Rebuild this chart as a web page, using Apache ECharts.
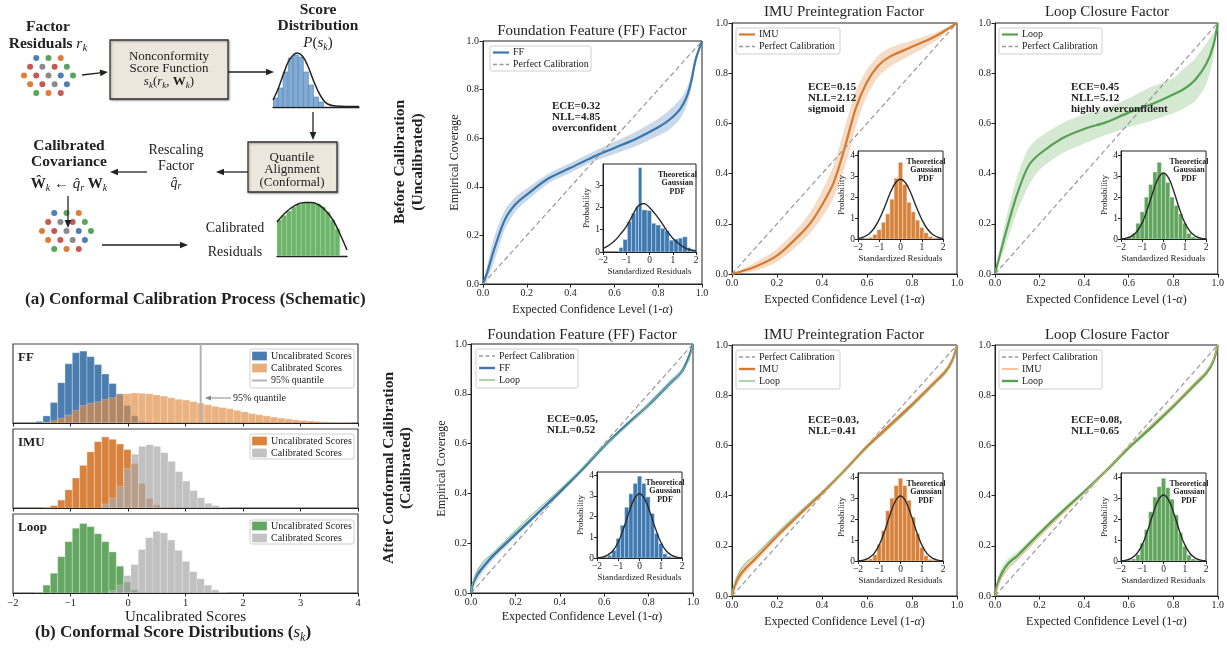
<!DOCTYPE html>
<html>
<head>
<meta charset="utf-8">
<title>Conformal calibration</title>
<script src="https://cdn.jsdelivr.net/npm/echarts@6.0.0/dist/echarts.min.js"></script>
<style>
  html, body { margin: 0; padding: 0; background: #fff; }
  #chart { width: 1227px; height: 649px; }
</style>
</head>
<body>
<div id="chart"></div>
<script>
// ---------- values ----------

// calibration curves before calibration
const ffBeforeX  = [0, 0.02, 0.05, 0.1, 0.15, 0.2, 0.3, 0.4, 0.5, 0.6, 0.7, 0.8, 0.85, 0.9, 0.93, 0.95, 0.97, 0.99, 1];
const ffBeforeY  = [0, 0.05, 0.14, 0.265, 0.33, 0.368, 0.435, 0.478, 0.522, 0.56, 0.598, 0.645, 0.675, 0.72, 0.77, 0.83, 0.92, 0.975, 1];
const ffBeforeHi = [0, 0.08, 0.19, 0.305, 0.36, 0.393, 0.455, 0.498, 0.542, 0.585, 0.628, 0.68, 0.715, 0.76, 0.805, 0.86, 0.94, 0.985, 1];
const ffBeforeLo = [0, 0.02, 0.09, 0.225, 0.3, 0.343, 0.415, 0.458, 0.502, 0.535, 0.568, 0.61, 0.635, 0.68, 0.735, 0.8, 0.9, 0.965, 1];

const imuBeforeX  = [0, 0.1, 0.2, 0.3, 0.35, 0.4, 0.45, 0.5, 0.55, 0.6, 0.65, 0.7, 0.8, 0.9, 1];
const imuBeforeY  = [0, 0.028, 0.073, 0.155, 0.205, 0.275, 0.36, 0.5, 0.66, 0.765, 0.83, 0.865, 0.905, 0.945, 1];
const imuBeforeHi = [0, 0.045, 0.1, 0.19, 0.25, 0.33, 0.43, 0.58, 0.73, 0.815, 0.87, 0.9, 0.93, 0.96, 1];
const imuBeforeLo = [0, 0.012, 0.048, 0.12, 0.165, 0.225, 0.3, 0.42, 0.585, 0.71, 0.785, 0.825, 0.875, 0.925, 1];

const loopBeforeX  = [0, 0.05, 0.1, 0.15, 0.2, 0.3, 0.4, 0.5, 0.6, 0.7, 0.8, 0.85, 0.9, 0.95, 0.98, 1];
const loopBeforeY  = [0, 0.17, 0.32, 0.43, 0.478, 0.54, 0.578, 0.605, 0.643, 0.675, 0.715, 0.738, 0.775, 0.84, 0.91, 1];
const loopBeforeHi = [0, 0.22, 0.39, 0.5, 0.545, 0.6, 0.635, 0.66, 0.7, 0.745, 0.78, 0.82, 0.86, 0.92, 0.96, 1];
const loopBeforeLo = [0, 0.12, 0.25, 0.35, 0.415, 0.48, 0.52, 0.555, 0.585, 0.61, 0.64, 0.66, 0.69, 0.76, 0.86, 1];

// calibration curves after calibration
const afterX     = [0, 0.01, 0.03, 0.06, 0.1, 0.2, 0.3, 0.4, 0.5, 0.6, 0.7, 0.8, 0.9, 0.95, 0.98, 1];
const ffAfterY   = [0, 0.04, 0.075, 0.11, 0.15, 0.235, 0.32, 0.405, 0.495, 0.59, 0.675, 0.755, 0.845, 0.89, 0.945, 1];
const imuAfterY  = [0, 0.035, 0.075, 0.11, 0.145, 0.238, 0.325, 0.41, 0.5, 0.595, 0.68, 0.762, 0.85, 0.895, 0.94, 1];
const loopAfterY = [0, 0.045, 0.09, 0.13, 0.16, 0.25, 0.335, 0.415, 0.5, 0.59, 0.67, 0.755, 0.845, 0.89, 0.935, 1];
const afterBandHW = [0, 0.02, 0.025, 0.02, 0.016, 0.012, 0.01, 0.01, 0.01, 0.01, 0.01, 0.012, 0.014, 0.014, 0.012, 0];

// inset histograms (standardized residuals)
const ffBeforeHistEdges = [-1.309, -1.137, -0.95, -0.777, -0.59, -0.475, -0.331, -0.101, 0.086, 0.273, 0.475, 0.662, 0.849, 1.05, 1.237, 1.424, 1.626, 1.77, 1.957];
const ffBeforeHistH     = [0.2, 0.56, 1.36, 1.74, 2.05, 3.79, 1.89, 1.86, 1.29, 1.21, 1.06, 0.95, 0.53, 0.58, 0.62, 0.68, 0.2, 0.07];
const insetCenters  = [-1.6, -1.4, -1.2, -1.0, -0.8, -0.6, -0.4, -0.2, 0, 0.2, 0.4, 0.6, 0.8, 1.0, 1.2, 1.4, 1.6];
const imuBeforeHistH  = [0.02, 0.08, 0.22, 0.45, 0.8, 1.2, 1.9, 2.9, 3.66, 2.6, 1.75, 1.3, 0.9, 0.55, 0.3, 0.12, 0.04];
const loopBeforeHistH = [0.1, 0.27, 0.75, 1.3, 2.0, 2.6, 3.2, 3.66, 3.15, 2.7, 2.0, 1.6, 1.2, 0.75, 0.27, 0.1, 0.03];
const ffAfterHistH    = [0.04, 0.13, 0.37, 0.94, 1.58, 2.45, 3.1, 3.6, 3.95, 3.6, 2.95, 2.15, 1.18, 0.7, 0.2, 0.08, 0.03];
const imuAfterHistH   = [0.03, 0.1, 0.3, 0.8, 1.45, 2.4, 3.0, 3.6, 3.95, 3.6, 2.9, 2.1, 1.3, 0.65, 0.25, 0.08, 0.03];
const loopAfterHistH  = [0.03, 0.1, 0.3, 0.85, 1.5, 2.35, 3.05, 3.55, 3.95, 3.5, 2.95, 2.2, 1.35, 0.7, 0.28, 0.1, 0.03];

// theoretical gaussian curves in the insets
const gaussX = [-2, -1.75, -1.5, -1.25, -1, -0.75, -0.5, -0.25, 0, 0.25, 0.5, 0.75, 1, 1.25, 1.5, 1.75, 2];
const ffBeforeGauss   = [0.15, 0.3, 0.5, 0.8, 1.14, 1.6, 2.05, 2.18, 2.0, 1.7, 1.35, 0.95, 0.62, 0.38, 0.2, 0.1, 0.05];
const imuBeforeGauss  = [0.03, 0.09, 0.23, 0.5, 0.94, 1.52, 2.16, 2.66, 2.85, 2.66, 2.16, 1.52, 0.94, 0.5, 0.23, 0.09, 0.03];
const loopBeforeGauss = [0.01, 0.04, 0.14, 0.36, 0.78, 1.44, 2.23, 2.89, 3.15, 2.89, 2.23, 1.44, 0.78, 0.36, 0.14, 0.04, 0.01];
const afterGauss      = [0.01, 0.04, 0.14, 0.35, 0.77, 1.42, 2.19, 2.84, 3.1, 2.84, 2.19, 1.42, 0.77, 0.35, 0.14, 0.04, 0.01];

// conformal score histograms, panel (b)
const SCORE_BIN = 0.1275;
const ffUncalStart = -1.606;
const ffUncalH = [0.02, 0.09, 0.26, 0.51, 0.75, 0.89, 0.91, 0.84, 0.74, 0.62, 0.50, 0.37, 0.22, 0.09, 0.02];
const ffCalStart = -1.478;
const ffCalH = [0.01, 0.03, 0.06, 0.1, 0.16, 0.22, 0.25, 0.27, 0.30, 0.32, 0.36, 0.37, 0.38, 0.375, 0.37, 0.355, 0.34, 0.32, 0.30, 0.29, 0.27, 0.25, 0.23, 0.21, 0.195, 0.18, 0.16, 0.14, 0.12, 0.105, 0.09, 0.075, 0.062, 0.05, 0.04, 0.032, 0.025, 0.02, 0.015, 0.01, 0.007, 0.005];
const ffQuantile95 = 1.264;
const imuUncalStart = -1.478;
const imuUncalH = [0.01, 0.03, 0.1, 0.23, 0.38, 0.54, 0.71, 0.84, 0.9, 0.87, 0.81, 0.74, 0.56, 0.31, 0.12, 0.04, 0.01];
const imuCalStart = -0.452;
const imuCalH = [0.05, 0.13, 0.27, 0.5, 0.68, 0.78, 0.8, 0.78, 0.7, 0.59, 0.46, 0.34, 0.22, 0.13, 0.06, 0.03, 0.01];
const loopUncalStart = -1.606;
const loopUncalH = [0.01, 0.1, 0.25, 0.46, 0.65, 0.82, 0.88, 0.84, 0.75, 0.65, 0.52, 0.34, 0.14, 0.04];
const loopCalStart = -0.331;
const loopCalH = [0.03, 0.1, 0.22, 0.36, 0.55, 0.7, 0.78, 0.76, 0.67, 0.54, 0.4, 0.27, 0.18, 0.1, 0.04, 0.01];

// schematic sketches, panel (a)
const schemScoreH = [9, 19, 35, 49, 52, 50, 35, 22, 10, 5];
const schemScoreCurveX = [0, 1, 2, 3, 4, 4.8, 5.8, 6.8, 7.8, 8.8, 9.8, 10.8, 12.4, 17];
const schemScoreCurveY = [7, 18, 32, 45, 52, 54, 51, 42, 29, 17, 8, 3, 1, 0.5];
const schemResidH = [36, 40.5, 45, 49, 51.5, 53, 53.5, 53.5, 52, 49, 44, 36, 27];
const schemResidCurveX = [0, 1.45, 2.9, 4.35, 5.8, 7.25, 8.7, 10.15, 11.6, 13.05, 14.5];
const schemResidCurveY = [34, 42, 48, 52, 53.5, 53.5, 51, 45, 36, 22, 6];
const dotCol  = [2, 4, 6, 1, 3, 5, 7, 0, 2, 4, 6, 8, 1, 3, 5, 7, 2, 4, 6];
const dotRow  = [0, 0, 0, 1, 1, 1, 1, 2, 2, 2, 2, 2, 3, 3, 3, 3, 4, 4, 4];
const dotKind = [0, 1, 2, 3, 4, 3, 1, 2, 3, 4, 0, 1, 2, 3, 4, 0, 1, 2, 3];

// ---------- styling ----------
const SERIF = '"Liberation Serif", "Times New Roman", "DejaVu Serif", serif';
const INK = '#222';
const C_BLUE = '#3a75ae', C_ORANGE = '#d67a31', C_GREEN = '#58a153';
const DOT_COLORS = ['#4c7fb5', '#5aa55a', '#e07c3a', '#c45a55', '#8a8a8a'];

const grids = [], xAxes = [], yAxes = [], series = [], graphics = [];

function addGrid(rect, xOpt, yOpt, gridOpt) {
  const i = grids.length;
  grids.push(Object.assign({ left: rect[0], top: rect[1], width: rect[2], height: rect[3] }, gridOpt));
  xAxes.push(Object.assign({ gridIndex: i, type: 'value' }, xOpt));
  yAxes.push(Object.assign({ gridIndex: i, type: 'value' }, yOpt));
  return i;
}

const minusFmt = v => (v < 0 ? '\u2212' + Math.abs(v) : String(v));

function valueAxis(min, max, interval, fontSize, fmt, extra) {
  return Object.assign({
    type: 'value', min, max, interval,
    axisLine: { show: true, onZero: false, lineStyle: { color: INK, width: 1 } },
    axisTick: { show: true, inside: false, length: 3.5, lineStyle: { color: INK, width: 1 } },
    axisLabel: { show: true, fontFamily: SERIF, fontSize, color: INK, margin: 4, formatter: fmt },
    splitLine: { show: false }
  }, extra);
}

function pairs(xs, ys) { return xs.map((x, i) => [x, ys[i]]); }

function lineSeries(gi, xs, ys, style, z, smooth) {
  return {
    type: 'line', xAxisIndex: gi, yAxisIndex: gi, data: pairs(xs, ys), z,
    showSymbol: false, symbol: 'none', smooth: smooth === undefined ? 0.3 : smooth, silent: true,
    lineStyle: style, emphasis: { disabled: true }
  };
}

function bandSeries(gi, xs, lo, hi, color, z) {
  return {
    type: 'custom', xAxisIndex: gi, yAxisIndex: gi, z, silent: true, data: [[0, 0]],
    renderItem: (params, api) => {
      const pts = [];
      for (let i = 0; i < xs.length; i++) pts.push(api.coord([xs[i], hi[i]]));
      for (let i = xs.length - 1; i >= 0; i--) pts.push(api.coord([xs[i], lo[i]]));
      return { type: 'polygon', shape: { points: pts, smooth: 0.25 }, style: { fill: color } };
    }
  };
}

function histSeries(gi, bars, style, z) {
  return {
    type: 'custom', xAxisIndex: gi, yAxisIndex: gi, z, silent: true, clip: true,
    data: bars, encode: { x: [0, 1], y: 2 },
    renderItem: (params, api) => {
      const p0 = api.coord([api.value(0), 0]);
      const p1 = api.coord([api.value(1), api.value(2)]);
      return { type: 'rect', shape: { x: p0[0], y: p1[1], width: p1[0] - p0[0], height: p0[1] - p1[1] }, style };
    }
  };
}

const fromStart = (start, hs) => hs.map((h, k) => [start + k * SCORE_BIN, start + (k + 1) * SCORE_BIN, h]);
const fromCenters = (cs, hs) => cs.map((c, k) => [c - 0.1, c + 0.1, hs[k]]);
const fromEdges = (es, hs) => hs.map((h, k) => [es[k], es[k + 1], h]);

function txt(x, y, text, size, o) {
  o = o || {};
  return {
    type: 'text', x, y, rotation: o.rotation || 0, z: 100, silent: true,
    style: {
      text, fontFamily: SERIF, fontSize: size, fontWeight: o.bold ? 'bold' : 'normal',
      fontStyle: o.italic ? 'italic' : 'normal', fill: o.color || INK,
      align: o.align || 'center', verticalAlign: o.valign || 'middle',
      textAlign: o.align || 'center', textVerticalAlign: o.valign || 'middle',
      lineHeight: o.lineHeight || Math.round(size * 1.1), rich: o.rich
    }
  };
}

function mathRich(size, bold) {
  const w = bold ? 'bold' : 'normal';
  return {
    n: { fontFamily: SERIF, fontSize: size, fontWeight: w, fill: INK, color: INK },
    i: { fontFamily: SERIF, fontSize: size, fontStyle: 'italic', fill: INK, color: INK },
    b: { fontFamily: SERIF, fontSize: size, fontWeight: 'bold', fill: INK, color: INK },
    s: { fontFamily: SERIF, fontSize: Math.round(size * 0.68), fontStyle: 'italic', fill: INK, color: INK, padding: [Math.round(size * 0.5), 0, 0, 0] }
  };
}

function arrow(x1, y1, x2, y2, color, lw, head) {
  color = color || INK; lw = lw || 1.3; head = head || 8;
  const a = Math.atan2(y2 - y1, x2 - x1), W = head * 0.42;
  const bx = x2 - head * Math.cos(a), by = y2 - head * Math.sin(a);
  graphics.push({ type: 'line', z: 100, silent: true, shape: { x1, y1, x2: bx, y2: by }, style: { stroke: color, lineWidth: lw } });
  graphics.push({ type: 'polygon', z: 100, silent: true,
    shape: { points: [[x2, y2], [bx - W * Math.sin(a), by + W * Math.cos(a)], [bx + W * Math.sin(a), by - W * Math.cos(a)]] },
    style: { fill: color } });
}

function legendBox(box, entries, fontSize, sample) {
  const [x, y, w, h] = box;
  graphics.push({ type: 'rect', z: 95, silent: true, shape: { x, y, width: w, height: h, r: 2 },
    style: { fill: 'rgba(255,255,255,0.85)', stroke: '#cfcfcf', lineWidth: 1 } });
  entries.forEach(e => {
    if (e.kind === 'patch') {
      graphics.push({ type: 'rect', z: 96, silent: true, shape: { x: x + sample[0], y: e.y - 4.5, width: sample[1] - sample[0], height: 9 },
        style: { fill: e.color, stroke: 'rgba(255,255,255,0.6)', lineWidth: 0.5 } });
    } else {
      graphics.push({ type: 'line', z: 96, silent: true, shape: { x1: x + sample[0], y1: e.y, x2: x + sample[1], y2: e.y },
        style: { stroke: e.color, lineWidth: e.width, lineDash: e.dash ? [4, 2.5] : null } });
    }
    graphics.push(txt(x + sample[1] + 4, e.y, e.text, fontSize, { align: 'left' }));
  });
}

// ---------- main calibration panels ----------
const X_NAME = 'Expected Confidence Level (1-{a|\u03b1})';
const nameStyle = { fontFamily: SERIF, fontSize: 12, color: INK, rich: { a: { fontFamily: SERIF, fontSize: 12, fontStyle: 'italic', color: INK } } };

function mainPanel(rect, yName, yGap, xGap) {
  const fmt = v => v.toFixed(1);
  return addGrid(rect,
    valueAxis(0, 1, 0.2, 10, fmt, { name: X_NAME, nameLocation: 'middle', nameGap: xGap, nameTextStyle: nameStyle }),
    valueAxis(0, 1, 0.2, 10, fmt, yName ? { name: yName, nameLocation: 'middle', nameGap: yGap, nameTextStyle: nameStyle } : {}),
    { show: true, borderColor: INK, borderWidth: 1, backgroundColor: 'transparent' });
}

function insetPanel(rect, ymax, yTicks) {
  return addGrid(rect,
    valueAxis(-2, 2, 1, 9.5, minusFmt, {
      z: 12, name: 'Standardized Residuals', nameLocation: 'middle', nameGap: 15,
      nameTextStyle: { fontFamily: SERIF, fontSize: 9, color: INK },
      axisTick: { show: true, length: 3, lineStyle: { color: INK } },
      axisLabel: { fontFamily: SERIF, fontSize: 9.5, color: INK, margin: 3, formatter: minusFmt }
    }),
    valueAxis(0, ymax, 1, 9.5, v => String(v), {
      z: 12, name: 'Probability', nameLocation: 'middle', nameGap: 10,
      nameTextStyle: { fontFamily: SERIF, fontSize: 9, color: INK },
      axisTick: { show: true, length: 3, customValues: yTicks, lineStyle: { color: INK } },
      axisLabel: { fontFamily: SERIF, fontSize: 9.5, color: INK, margin: 3, customValues: yTicks }
    }),
    { show: true, backgroundColor: '#fff', borderColor: INK, borderWidth: 1, z: 10 });
}

const diagStyle = { color: '#999', width: 1.2, type: [5, 3] };

// top row
const gFFT = mainPanel([483, 41, 219, 243], 'Empirical Coverage', 22, 20);
series.push(bandSeries(gFFT, ffBeforeX, ffBeforeLo, ffBeforeHi, '#c9d9ea', 2));
series.push(lineSeries(gFFT, ffBeforeX, ffBeforeY, { color: C_BLUE, width: 2.2 }, 3));
series.push(lineSeries(gFFT, [0, 1], [0, 1], diagStyle, 4, false));

const gIMUT = mainPanel([732, 23, 225, 251], null, 0, 20);
series.push(bandSeries(gIMUT, imuBeforeX, imuBeforeLo, imuBeforeHi, '#f5dcc6', 2));
series.push(lineSeries(gIMUT, imuBeforeX, imuBeforeY, { color: C_ORANGE, width: 2.2 }, 3));
series.push(lineSeries(gIMUT, [0, 1], [0, 1], diagStyle, 4, false));

const gLOOPT = mainPanel([995, 23, 224, 251], null, 0, 20);
series.push(bandSeries(gLOOPT, loopBeforeX, loopBeforeLo, loopBeforeHi, '#d5e8d2', 2));
series.push(lineSeries(gLOOPT, loopBeforeX, loopBeforeY, { color: C_GREEN, width: 2.2 }, 3));
series.push(lineSeries(gLOOPT, [0, 1], [0, 1], diagStyle, 4, false));

// bottom row
function afterBand(ys) {
  return [ys.map((y, i) => y - afterBandHW[i]), ys.map((y, i) => y + afterBandHW[i])];
}
const gFFB = mainPanel([471, 344, 222, 249], 'Empirical Coverage', 23, 18);
series.push(lineSeries(gFFB, [0, 1], [0, 1], diagStyle, 2, false));
let bb = afterBand(ffAfterY);
series.push(bandSeries(gFFB, afterX, bb[0], bb[1], '#d3e0ee', 3));
series.push(lineSeries(gFFB, afterX, ffAfterY, { color: C_BLUE, width: 2.4 }, 4));
series.push(lineSeries(gFFB, afterX, loopAfterY, { color: '#7fbf7b', width: 1.2, opacity: 0.8 }, 5));

const gIMUB = mainPanel([732, 345, 225, 251], null, 0, 20);
series.push(lineSeries(gIMUB, [0, 1], [0, 1], diagStyle, 2, false));
bb = afterBand(imuAfterY);
series.push(bandSeries(gIMUB, afterX, bb[0], bb[1], '#f5e2d0', 3));
series.push(lineSeries(gIMUB, afterX, imuAfterY, { color: C_ORANGE, width: 2.4 }, 4));
series.push(lineSeries(gIMUB, afterX, loopAfterY, { color: '#7fbf7b', width: 1.2, opacity: 0.8 }, 5));

const gLOOPB = mainPanel([995, 345, 224, 251], null, 0, 20);
series.push(lineSeries(gLOOPB, [0, 1], [0, 1], diagStyle, 2, false));
bb = afterBand(loopAfterY);
series.push(bandSeries(gLOOPB, afterX, bb[0], bb[1], '#dcebd9', 3));
series.push(lineSeries(gLOOPB, afterX, loopAfterY, { color: C_GREEN, width: 2.4 }, 4));
series.push(lineSeries(gLOOPB, afterX, imuAfterY, { color: '#f0a868', width: 1.2, opacity: 0.7 }, 5));

// insets
const insetSpecs = [
  { rect: [603, 164, 93, 88], ymax: 3.95, ticks: [0, 1, 2, 3], bars: fromEdges(ffBeforeHistEdges, ffBeforeHistH), color: '#3f79b1', gauss: ffBeforeGauss },
  { rect: [858, 151, 85, 88], ymax: 4.2, ticks: [0, 1, 2, 3, 4], bars: fromCenters(insetCenters, imuBeforeHistH), color: '#d8813a', gauss: imuBeforeGauss },
  { rect: [1121, 151, 85, 88], ymax: 4.2, ticks: [0, 1, 2, 3, 4], bars: fromCenters(insetCenters, loopBeforeHistH), color: '#5fa55b', gauss: loopBeforeGauss },
  { rect: [597, 472, 85, 86], ymax: 4.15, ticks: [0, 1, 2, 3, 4], bars: fromCenters(insetCenters, ffAfterHistH), color: '#3f79b1', gauss: afterGauss },
  { rect: [858, 473, 85, 88], ymax: 4.2, ticks: [0, 1, 2, 3, 4], bars: fromCenters(insetCenters, imuAfterHistH), color: '#d8813a', gauss: afterGauss },
  { rect: [1121, 473, 85, 88], ymax: 4.2, ticks: [0, 1, 2, 3, 4], bars: fromCenters(insetCenters, loopAfterHistH), color: '#5fa55b', gauss: loopBeforeGauss }
];
insetSpecs.forEach(s => {
  const gi = insetPanel(s.rect, s.ymax, s.ticks);
  series.push(histSeries(gi, s.bars, { fill: s.color, stroke: 'rgba(255,255,255,0.7)', lineWidth: 0.5 }, 12));
  series.push(lineSeries(gi, gaussX, s.gauss, { color: '#2b2b2b', width: 1.4 }, 13, 0.4));
  const cx = s.rect[0] + s.rect[2] * 0.8, cy = s.rect[1] + 11;
  graphics.push(txt(cx, cy + 8, 'Theoretical\nGaussian\nPDF', 8, { bold: true, lineHeight: 8.5 }));
});

// panel titles
[['Foundation Feature (FF) Factor', 592, 31], ['IMU Preintegration Factor', 844, 12], ['Loop Closure Factor', 1107, 12],
 ['Foundation Feature (FF) Factor', 582, 335], ['IMU Preintegration Factor', 844, 335], ['Loop Closure Factor', 1107, 335]]
  .forEach(t => graphics.push(txt(t[1], t[2], t[0], 15)));

// ECE / NLL notes
[['ECE=0.32\nNLL=4.85\noverconfident', 552, 107], ['ECE=0.15\nNLL=2.12\nsigmoid', 808, 88], ['ECE=0.45\nNLL=5.12\nhighly overconfident', 1071, 88],
 ['ECE=0.05,\nNLL=0.52', 547, 420], ['ECE=0.03,\nNLL=0.41', 808, 421], ['ECE=0.08,\nNLL=0.65', 1071, 421]]
  .forEach(t => graphics.push(txt(t[1], t[2] - 6, t[0], 11, { bold: true, align: 'left', valign: 'top', lineHeight: 11 })));

// legends of calibration panels
const dashE = (y) => ({ kind: 'line', color: '#999', width: 1.3, dash: true, y, text: 'Perfect Calibration' });
const S = [3, 19];
legendBox([490, 46, 101, 25], [{ color: C_BLUE, width: 2.2, y: 52.5, text: 'FF' }, dashE(64.5)], 10, S);
legendBox([736, 28, 104, 26], [{ color: C_ORANGE, width: 2.2, y: 34.5, text: 'IMU' }, dashE(46.5)], 10, S);
legendBox([999, 28, 103, 26], [{ color: C_GREEN, width: 2.2, y: 34.5, text: 'Loop' }, dashE(46.5)], 10, S);
legendBox([476, 349, 102, 39], [dashE(356), { color: C_BLUE, width: 2.4, y: 368, text: 'FF' }, { color: '#7fbf7b', width: 1.3, y: 380, text: 'Loop' }], 10, S);
legendBox([736, 350, 104, 39], [dashE(357), { color: C_ORANGE, width: 2.4, y: 369, text: 'IMU' }, { color: '#7fbf7b', width: 1.3, y: 381, text: 'Loop' }], 10, S);
legendBox([999, 350, 103, 39], [dashE(357), { color: '#f0a868', width: 1.3, y: 369, text: 'IMU' }, { color: C_GREEN, width: 2.4, y: 381, text: 'Loop' }], 10, S);

// row labels
graphics.push(txt(400, 162, 'Before Calibration', 15.5, { bold: true, rotation: Math.PI / 2 }));
graphics.push(txt(418, 162, '(Uncalibrated)', 15.5, { bold: true, rotation: Math.PI / 2 }));
graphics.push(txt(389, 468, 'After Conformal Calibration', 15.5, { bold: true, rotation: Math.PI / 2 }));
graphics.push(txt(406, 468, '(Calibrated)', 15.5, { bold: true, rotation: Math.PI / 2 }));

// ---------- panel (b): conformal score distributions ----------
function scorePanel(rect, last) {
  return addGrid(rect,
    valueAxis(-2, 4, 1, 10.5, minusFmt, {
      axisTick: { show: true, length: 3.5, lineStyle: { color: INK } },
      axisLabel: { show: last, fontFamily: SERIF, fontSize: 10.5, color: INK, margin: 5, formatter: minusFmt },
      name: last ? 'Uncalibrated Scores' : '', nameLocation: 'middle', nameGap: 17,
      nameTextStyle: { fontFamily: SERIF, fontSize: 15, color: INK }
    }),
    { min: 0, max: 1, show: false },
    { show: true, borderColor: '#444', borderWidth: 1.2, backgroundColor: 'transparent' });
}
const edge = { stroke: 'rgba(255,255,255,0.55)', lineWidth: 0.6 };
const gB1 = scorePanel([13, 344, 345, 79], false);
series.push(histSeries(gB1, fromStart(ffUncalStart, ffUncalH), Object.assign({ fill: '#3c72a8', opacity: 0.92 }, edge), 2));
series.push(histSeries(gB1, fromStart(ffCalStart, ffCalH), Object.assign({ fill: '#e08c45', opacity: 0.68 }, edge), 3));
series.push(lineSeries(gB1, [ffQuantile95, ffQuantile95], [0, 1], { color: '#b3b3b3', width: 2 }, 4, false));
const gB2 = scorePanel([13, 429, 345, 79], false);
series.push(histSeries(gB2, fromStart(imuUncalStart, imuUncalH), Object.assign({ fill: '#d5772d', opacity: 0.92 }, edge), 2));
series.push(histSeries(gB2, fromStart(imuCalStart, imuCalH), Object.assign({ fill: '#a9a9a9', opacity: 0.72 }, edge), 3));
const gB3 = scorePanel([13, 514, 345, 79], true);
series.push(histSeries(gB3, fromStart(loopUncalStart, loopUncalH), Object.assign({ fill: '#539d52', opacity: 0.9 }, edge), 2));
series.push(histSeries(gB3, fromStart(loopCalStart, loopCalH), Object.assign({ fill: '#a9a9a9', opacity: 0.72 }, edge), 3));

graphics.push(txt(18, 358, 'FF', 13, { bold: true, align: 'left' }));
graphics.push(txt(18, 443, 'IMU', 13, { bold: true, align: 'left' }));
graphics.push(txt(18, 528, 'Loop', 13, { bold: true, align: 'left' }));
arrow(231, 398, 205, 398, '#888', 1, 6);
graphics.push(txt(233, 398, '95% quantile', 10, { align: 'left' }));
const SB = [2, 17];
legendBox([250, 349, 104, 39], [
  { kind: 'patch', color: '#4a7cb0', y: 356, text: 'Uncalibrated Scores' },
  { kind: 'patch', color: '#e9ad7a', y: 368, text: 'Calibrated Scores' },
  { color: '#b3b3b3', width: 2, y: 380.5, text: '95% quantile' }], 10, SB);
legendBox([250, 434, 104, 25], [
  { kind: 'patch', color: '#d98238', y: 441, text: 'Uncalibrated Scores' },
  { kind: 'patch', color: '#c2c2c2', y: 453, text: 'Calibrated Scores' }], 10, SB);
legendBox([250, 520, 104, 24], [
  { kind: 'patch', color: '#62a661', y: 526, text: 'Uncalibrated Scores' },
  { kind: 'patch', color: '#c2c2c2', y: 538, text: 'Calibrated Scores' }], 10, SB);
graphics.push(txt(35, 633, '(b) Conformal Score Distributions ({i|s}{s|k})', 17,
  { bold: true, align: 'left', rich: mathRich(17, true) }));

// ---------- panel (a): schematic ----------
function sketchGrid(rect, xmax, ymax, inverse, axisLine) {
  return addGrid(rect,
    { min: 0, max: xmax, show: axisLine, axisLine: { show: true, onZero: false, lineStyle: { color: INK, width: 1.4 } },
      axisTick: { show: false }, axisLabel: { show: false }, splitLine: { show: false } },
    { min: 0, max: ymax, inverse, show: false },
    { show: false });
}
const gDots1 = sketchGrid([24, 58, 49, 35], 8, 4, true, false);
const gDots2 = sketchGrid([42, 213, 49, 36], 8, 4, true, false);
[gDots1, gDots2].forEach(gi => series.push({
  type: 'scatter', xAxisIndex: gi, yAxisIndex: gi, symbolSize: 6, silent: true, z: 5,
  data: dotCol.map((c, i) => [c, dotRow[i], dotKind[i]]),
  itemStyle: { color: p => DOT_COLORS[p.data[2]], opacity: 1 }
}));
const gScore = sketchGrid([273, 51, 86, 56], 17, 56, false, true);
series.push(histSeries(gScore, schemScoreH.map((h, i) => [i, i + 1, h]), { fill: '#83acd5', stroke: '#4f82b5', lineWidth: 0.6 }, 4));
series.push(lineSeries(gScore, schemScoreCurveX, schemScoreCurveY, { color: '#222', width: 1.5 }, 5, 0.4));
const gResid = sketchGrid([277, 200, 70, 56], 14.5, 56, false, true);
series.push(histSeries(gResid, schemResidH.map((h, i) => [i, i + 1, h]), { fill: '#6cb56b', stroke: '#a3d4a1', lineWidth: 0.6 }, 4));
series.push(lineSeries(gResid, schemResidCurveX, schemResidCurveY, { color: '#222', width: 1.5 }, 5, 0.4));

const boxStyle = { fill: '#ece6dc', stroke: '#333', lineWidth: 1.3, shadowBlur: 2, shadowOffsetX: 1, shadowOffsetY: 1, shadowColor: 'rgba(0,0,0,0.35)' };
graphics.push({ type: 'rect', z: 90, silent: true, shape: { x: 110, y: 40, width: 118, height: 59 }, style: boxStyle });
graphics.push({ type: 'rect', z: 90, silent: true, shape: { x: 248, y: 142, width: 89, height: 50 }, style: boxStyle });

graphics.push(txt(48, 27, 'Factor', 15.5, { bold: true }));
graphics.push(txt(48, 44, 'Residuals {i|r}{s|k}', 15.5, { bold: true, rich: mathRich(15.5, true) }));
graphics.push(txt(169, 57, 'Nonconformity', 13));
graphics.push(txt(169, 69, 'Score Function', 13));
graphics.push(txt(169, 82, '{i|s}{s|k}{n|(}{i|r}{s|k}{n|, }{b|W}{s|k}{n|)}', 13, { rich: mathRich(13, false) }));
graphics.push(txt(318, 10, 'Score', 15.5, { bold: true }));
graphics.push(txt(318, 26, 'Distribution', 15.5, { bold: true }));
graphics.push(txt(318, 43, '{i|P}{n|(}{i|s}{s|k}{n|)}', 15, { rich: mathRich(15, false) }));
graphics.push(txt(292, 158, 'Quantile', 13));
graphics.push(txt(292, 170, 'Alignment', 13));
graphics.push(txt(292, 183, '(Conformal)', 13));
graphics.push(txt(176, 150, 'Rescaling', 14));
graphics.push(txt(176, 166, 'Factor', 14));
graphics.push(txt(176, 183, '{i|q\u0302}{s|r}', 14, { rich: mathRich(14, false) }));
graphics.push(txt(69, 146, 'Calibrated', 15.5, { bold: true }));
graphics.push(txt(69, 162, 'Covariance', 15.5, { bold: true }));
graphics.push(txt(69, 184, '{b|W\u0302}{s|k}{n| \u2190 }{i|q\u0302}{s|r}{n| }{b|W}{s|k}', 15, { rich: mathRich(15, false) }));
graphics.push(txt(235, 228, 'Calibrated', 14));
graphics.push(txt(235, 252, 'Residuals', 14));
graphics.push(txt(25, 300, '(a) Conformal Calibration Process (Schematic)', 17, { bold: true, align: 'left' }));

arrow(82, 75, 108, 72);
arrow(228, 72, 274, 72);
arrow(313, 112, 313, 140);
arrow(248, 172, 216, 172);
arrow(147, 172, 110, 172);
arrow(68, 196, 68, 228);
arrow(102, 245, 188, 245);

// ---------- render ----------
const chart = echarts.init(document.getElementById('chart'));
chart.setOption({
  animation: false,
  backgroundColor: '#fff',
  grid: grids,
  xAxis: xAxes,
  yAxis: yAxes,
  series,
  graphic: { elements: graphics }
});
window.addEventListener('resize', () => chart.resize());
</script>
</body>
</html>
